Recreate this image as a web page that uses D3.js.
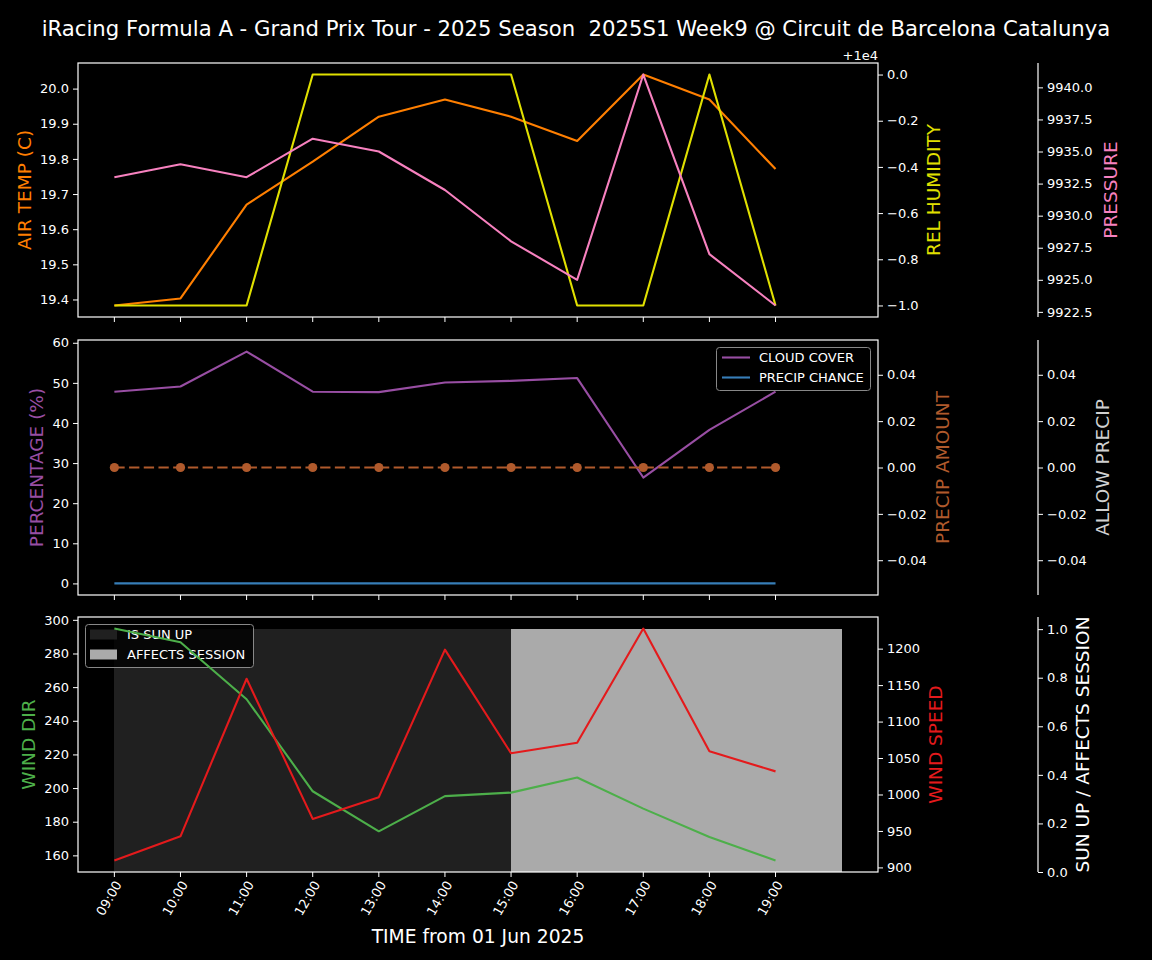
<!DOCTYPE html>
<html><head><meta charset="utf-8">
<script src="https://cdn.jsdelivr.net/npm/d3@7"></script>
<style>
body{margin:0;background:#000;}
svg{display:block;}
text{font-family:"DejaVu Sans",sans-serif;white-space:pre;}
</style>
</head><body><svg id="c" width="1152" height="960"></svg>
<script>
// ---------------- DATA ----------------
const titleText = "iRacing Formula A - Grand Prix Tour - 2025 Season  2025S1 Week9 @ Circuit de Barcelona Catalunya";
const xLabelText = "TIME from 01 Jun 2025";
const timeLabels = ["09:00","10:00","11:00","12:00","13:00","14:00","15:00","16:00","17:00","18:00","19:00"];
const airTemp = [19.383, 19.403, 19.670, 19.792, 19.920, 19.969, 19.920, 19.851, 20.040, 19.969, 19.771];
const relHumidity = [9999, 9999, 9999, 10000, 10000, 10000, 10000, 9999, 9999, 10000, 9999];
const pressure = [9933, 9934, 9933, 9936, 9935, 9932, 9928, 9925, 9941, 9927, 9923];
const cloudCover = [47.8, 49.1, 57.8, 47.8, 47.7, 50.1, 50.5, 51.2, 26.4, 38.3, 47.8];
const precipChance = [0, 0, 0, 0, 0, 0, 0, 0, 0, 0, 0];
const precipAmount = [0, 0, 0, 0, 0, 0, 0, 0, 0, 0, 0];
const allowPrecip = [0, 0, 0, 0, 0, 0, 0, 0, 0, 0, 0];
const windDir = [294.8, 286.7, 252.8, 198.1, 174.3, 195.2, 197.3, 206.3, 187.8, 170.9, 157.0];
const windSpeed = [909.6, 942.6, 1158.7, 966.5, 996.3, 1198.6, 1056.5, 1071.0, 1227.5, 1059.2, 1031.7];
const sunUp = [1, 1, 1, 1, 1, 1, 1, 1, 1, 1, 1];
const affectsSession = [0, 0, 0, 0, 0, 0, 1, 1, 1, 1, 1];

const tempTicks = [19.4, 19.5, 19.6, 19.7, 19.8, 19.9, 20.0];
const humTicks = [9999.0, 9999.2, 9999.4, 9999.6, 9999.8, 10000.0];
const presTicks = [9922.5, 9925, 9927.5, 9930, 9932.5, 9935, 9937.5, 9940];
const pctTicks = [0, 10, 20, 30, 40, 50, 60];
const smallTicks = [-0.04, -0.02, 0, 0.02, 0.04];
const dirTicks = [160, 180, 200, 220, 240, 260, 280, 300];
const speedTicks = [900, 950, 1000, 1050, 1100, 1150, 1200];
const sunTicks = [0, 0.2, 0.4, 0.6, 0.8, 1.0];

// ---------------- SETUP ----------------
const COLORS = {
  temp: "#ff7f00", hum: "#e0e000", pres: "#f781bf",
  cloud: "#984ea3", pchance: "#377eb8", pamount: "#b05a2c", allow: "#d0d0d0",
  dir: "#4daf4a", speed: "#e41a1c", sun: "#ffffff",
  sunBar: "#202020", sessBar: "#aaaaaa"
};
const LABEL_SIZE = 18.5;
const svg = d3.select("#c");
svg.append("rect").attr("width",1152).attr("height",960).attr("fill","#000");

const parse = d3.timeParse("%Y-%m-%d %H:%M");
const times = timeLabels.map(t => parse("2025-06-01 " + t));
const hour = 3600*1000;
const X0 = 78, X1 = 878, SP = 1038;
const tMin = times[0].getTime(), tMax = times[times.length-1].getTime() + hour;
const pad = (tMax - tMin)*0.05;
const x = d3.scaleTime().domain([new Date(tMin - pad), new Date(tMax + pad)]).range([X0, X1]);

function ext(arrs){
  const all = [].concat(...arrs);
  let lo = d3.min(all), hi = d3.max(all);
  if (lo === hi) { lo -= 0.05; hi += 0.05; }
  const p = (hi - lo)*0.05;
  return [lo - p, hi + p];
}
const minus = s => s.replace("-", "\u2212");

const panels = [
  {top: 63, bottom: 317},
  {top: 340, bottom: 595},
  {top: 617, bottom: 872}
];

function leftAxis(p, scale, ticks, fmt){
  const g = svg.append("g").attr("transform", `translate(${X0},0)`);
  g.call(d3.axisLeft(scale).tickValues(ticks).tickFormat(fmt).tickSize(5).tickPadding(4));
  styleAxis(g);
  g.select(".domain").remove();
}
function rightAxis(xpos, scale, ticks, fmt){
  const g = svg.append("g").attr("transform", `translate(${xpos},0)`);
  g.call(d3.axisRight(scale).tickValues(ticks).tickFormat(fmt).tickSize(5).tickPadding(4));
  styleAxis(g);
  g.select(".domain").remove();
}
function styleAxis(g){
  g.selectAll(".tick line").attr("stroke","#fff").attr("stroke-width",1);
  g.selectAll(".tick text").attr("fill","#fff").attr("font-size",13).attr("font-family","DejaVu Sans");
}
function spineLine(xpos, p){
  svg.append("line").attr("x1",xpos).attr("x2",xpos).attr("y1",p.top).attr("y2",p.bottom)
    .attr("stroke","#fff").attr("stroke-width",1.2);
}
function frame(p){
  svg.append("rect").attr("x",X0).attr("y",p.top).attr("width",X1-X0).attr("height",p.bottom-p.top)
    .attr("fill","none").attr("stroke","#fff").attr("stroke-width",1.2);
}
function vlabel(text, xpos, p, color){
  const cy = (p.top + p.bottom)/2;
  svg.append("text").attr("transform", `translate(${xpos},${cy}) rotate(-90)`)
    .attr("text-anchor","middle").attr("dominant-baseline","central")
    .attr("fill", color).attr("font-size", LABEL_SIZE).text(text);
}
function xTicks(p){
  const g = svg.append("g");
  times.forEach(t => {
    g.append("line").attr("x1",x(t)).attr("x2",x(t)).attr("y1",p.bottom).attr("y2",p.bottom+5)
      .attr("stroke","#fff").attr("stroke-width",1);
  });
}
function drawLine(data, yScale, color, extra){
  const line = d3.line().x((d,i)=>x(times[i])).y(d=>yScale(d));
  const path = svg.append("path").datum(data).attr("d", line).attr("fill","none")
    .attr("stroke", color).attr("stroke-width", 2.1).attr("stroke-linejoin","round");
  if (extra) extra(path);
  return path;
}

// ---------------- TITLE ----------------
svg.append("text").attr("x",576).attr("y",28).attr("text-anchor","middle").attr("dominant-baseline","central")
  .attr("fill","#fff").attr("font-size",21.2).text(titleText);

// ---------------- PANEL 1 ----------------
{
  const p = panels[0];
  const yT = d3.scaleLinear().domain(ext([airTemp])).range([p.bottom, p.top]);
  const yH = d3.scaleLinear().domain(ext([relHumidity])).range([p.bottom, p.top]);
  const yP = d3.scaleLinear().domain(ext([pressure])).range([p.bottom, p.top]);
  drawLine(airTemp, yT, COLORS.temp);
  drawLine(relHumidity, yH, COLORS.hum);
  drawLine(pressure, yP, COLORS.pres);
  frame(p);
  leftAxis(p, yT, tempTicks, d3.format(".1f"));
  rightAxis(X1, yH, humTicks, d => minus((d - 10000).toFixed(1)));
  rightAxis(SP, yP, presTicks, d3.format(".1f"));
  spineLine(SP, p);
  xTicks(p);
  svg.append("text").attr("x", X1).attr("y", 55).attr("text-anchor","end").attr("dominant-baseline","central")
    .attr("fill","#fff").attr("font-size",13).text("+1e4");
  vlabel("AIR TEMP (C)", 24, p, COLORS.temp);
  vlabel("REL HUMIDITY", 933, p, COLORS.hum);
  vlabel("PRESSURE", 1110, p, COLORS.pres);
}

// ---------------- PANEL 2 ----------------
{
  const p = panels[1];
  const yC = d3.scaleLinear().domain(ext([cloudCover, precipChance])).range([p.bottom, p.top]);
  const yA = d3.scaleLinear().domain(ext([precipAmount])).range([p.bottom, p.top]);
  const yAl = d3.scaleLinear().domain(ext([allowPrecip])).range([p.bottom, p.top]);
  drawLine(cloudCover, yC, COLORS.cloud);
  drawLine(precipChance, yC, COLORS.pchance);
  drawLine(precipAmount, yA, COLORS.pamount, path => path.attr("stroke-dasharray","10.3,4.4"));
  svg.append("g").selectAll("circle").data(precipAmount).join("circle")
    .attr("cx",(d,i)=>x(times[i])).attr("cy",d=>yA(d)).attr("r",4.6).attr("fill",COLORS.pamount);
  frame(p);
  leftAxis(p, yC, pctTicks, d3.format("d"));
  rightAxis(X1, yA, smallTicks, d => minus(d3.format(".2f")(d)));
  rightAxis(SP, yAl, smallTicks, d => minus(d3.format(".2f")(d)));
  spineLine(SP, p);
  xTicks(p);
  vlabel("PERCENTAGE (%)", 36, p, COLORS.cloud);
  vlabel("PRECIP AMOUNT", 942, p, COLORS.pamount);
  vlabel("ALLOW PRECIP", 1102, p, COLORS.allow);
  const lg = svg.append("g");
  lg.append("rect").attr("x",716.5).attr("y",347.5).attr("width",154).attr("height",43).attr("rx",3)
    .attr("fill","#000").attr("fill-opacity",0.8).attr("stroke","#888").attr("stroke-width",1);
  [["CLOUD COVER", COLORS.cloud, 357.5], ["PRECIP CHANCE", COLORS.pchance, 377.5]].forEach(([t,c,yy]) => {
    lg.append("line").attr("x1",722).attr("x2",750).attr("y1",yy).attr("y2",yy).attr("stroke",c).attr("stroke-width",2.1);
    lg.append("text").attr("x",759).attr("y",yy).attr("dominant-baseline","central").attr("fill","#fff")
      .attr("font-size",13).text(t);
  });
}

// ---------------- PANEL 3 ----------------
{
  const p = panels[2];
  const yD = d3.scaleLinear().domain(ext([windDir])).range([p.bottom, p.top]);
  const yS = d3.scaleLinear().domain(ext([windSpeed])).range([p.bottom, p.top]);
  const yB = d3.scaleLinear().domain([0, 1.05]).range([p.bottom, p.top]);
  const bars = svg.append("g").attr("shape-rendering","crispEdges");
  const barX = i => Math.round(x(times[i]));
  const barX2 = i => Math.round(x(new Date(times[i].getTime()+hour)));
  sunUp.forEach((v,i) => {
    if (!v || affectsSession[i]) return;
    bars.append("rect").attr("x", barX(i)).attr("width", barX2(i) - barX(i))
      .attr("y", yB(v)).attr("height", yB(0) - yB(v)).attr("fill", COLORS.sunBar);
  });
  affectsSession.forEach((v,i) => {
    if (!v) return;
    bars.append("rect").attr("x", barX(i)).attr("width", barX2(i) - barX(i))
      .attr("y", yB(v)).attr("height", yB(0) - yB(v)).attr("fill", COLORS.sessBar);
  });
  const lg = svg.append("g");
  lg.append("rect").attr("x",85.5).attr("y",624.5).attr("width",168).attr("height",43).attr("rx",3)
    .attr("fill","#000").attr("fill-opacity",0.8).attr("stroke","#888").attr("stroke-width",1);
  [["IS SUN UP", COLORS.sunBar, 634.5], ["AFFECTS SESSION", COLORS.sessBar, 654.5]].forEach(([t,c,yy]) => {
    lg.append("rect").attr("x",90).attr("y",yy-5).attr("width",27).attr("height",10).attr("fill",c);
    lg.append("text").attr("x",127).attr("y",yy).attr("dominant-baseline","central").attr("fill","#fff")
      .attr("font-size",13).text(t);
  });
  drawLine(windDir, yD, COLORS.dir);
  drawLine(windSpeed, yS, COLORS.speed);
  frame(p);
  leftAxis(p, yD, dirTicks, d3.format("d"));
  rightAxis(X1, yS, speedTicks, d3.format("d"));
  rightAxis(SP, yB, sunTicks, d3.format(".1f"));
  spineLine(SP, p);
  xTicks(p);
  vlabel("WIND DIR", 28, p, COLORS.dir);
  vlabel("WIND SPEED", 935, p, COLORS.speed);
  vlabel("SUN UP / AFFECTS SESSION", 1082, p, COLORS.sun);
  const g = svg.append("g");
  times.forEach((t,i) => {
    g.append("text").attr("transform", `translate(${x(t)+4},${p.bottom+10}) rotate(-60)`)
      .attr("text-anchor","end").attr("dominant-baseline","central")
      .attr("fill","#fff").attr("font-size",13).text(d3.timeFormat("%H:%M")(t));
  });
  svg.append("text").attr("x",478).attr("y",936).attr("text-anchor","middle").attr("dominant-baseline","central")
    .attr("fill","#fff").attr("font-size",18.7).text(xLabelText);
}
</script>
</body></html>
